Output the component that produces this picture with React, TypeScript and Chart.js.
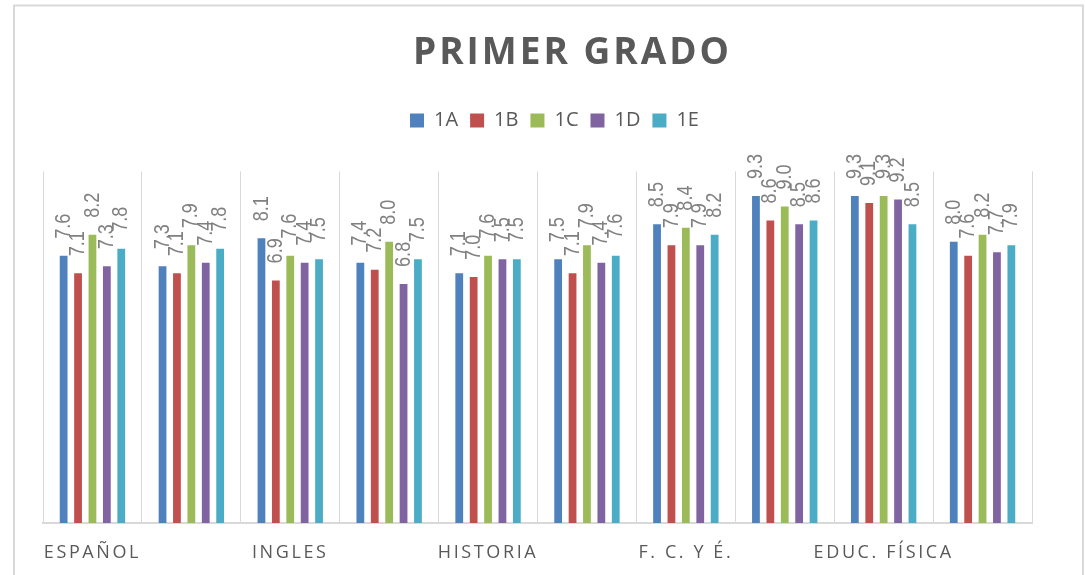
import React, { useEffect, useRef } from "react";
import { Chart, registerables } from "chart.js";

Chart.register(...registerables);

// Categories (only every other label is shown in the reference)
const categories = ["ESPAÑOL", "", "INGLES", "", "HISTORIA", "", "F. C. Y É.", "", "EDUC. FÍSICA", ""];

const seriesNames = ["1A", "1B", "1C", "1D", "1E"];
const values1A = [7.6, 7.3, 8.1, 7.4, 7.1, 7.5, 8.5, 9.3, 9.3, 8.0];
const values1B = [7.1, 7.1, 6.9, 7.2, 7.0, 7.1, 7.9, 8.6, 9.1, 7.6];
const values1C = [8.2, 7.9, 7.6, 8.0, 7.6, 7.9, 8.4, 9.0, 9.3, 8.2];
const values1D = [7.3, 7.4, 7.4, 6.8, 7.5, 7.4, 7.9, 8.5, 9.2, 7.7];
const values1E = [7.8, 7.8, 7.5, 7.5, 7.5, 7.6, 8.2, 8.6, 8.5, 7.9];
const seriesColors = ["#4f81bd", "#c0504d", "#9bbb59", "#8064a2", "#4bacc6"];

const titleText = "PRIMER GRADO";
const yMin = 0;
const yMax = 10;

const GRAY = "#d9d9d9";
const TEXT = "#595959";

const framePlugin = {
  id: "frame",
  beforeDraw(chart: any) {
    const ctx = chart.ctx;
    ctx.save();
    ctx.fillStyle = "#ffffff";
    ctx.fillRect(0, 0, chart.width, chart.height);
    ctx.strokeStyle = GRAY;
    ctx.lineWidth = 2;
    ctx.strokeRect(14, 5.5, 1069, chart.height + 10);
    ctx.restore();

    const title = chart.titleBlock;
    if (title && !title.__patched) {
      const orig = title.draw;
      title.draw = function (...a: any[]) {
        const c = this.ctx;
        c.save();
        c.letterSpacing = "3px";
        c.translate(35, 0);
        orig.apply(this, a);
        c.restore();
      };
      title.__patched = true;
    }
    const lg = chart.legend;
    if (lg && !lg.__patched) {
      const orig = lg.draw;
      lg.draw = function (...a: any[]) {
        const c = this.ctx;
        c.save();
        c.letterSpacing = "0px";
        c.translate(17, 0);
        orig.apply(this, a);
        c.restore();
      };
      lg.__patched = true;
    }
    const xs = chart.scales && chart.scales.x;
    if (xs && !xs.__patched) {
      const orig = xs.drawLabels;
      xs.drawLabels = function (...a: any[]) {
        const c = this.ctx;
        c.save();
        c.letterSpacing = "2.6px";
        orig.apply(this, a);
        c.restore();
      };
      xs.__patched = true;
    }
  },
};

const valueLabelPlugin = {
  id: "valueLabels",
  afterDatasetsDraw(chart: any) {
    const ctx = chart.ctx;
    ctx.save();
    ctx.letterSpacing = "0px";
    ctx.fillStyle = "#808080";
    ctx.font = '22px "Liberation Sans", Arial, sans-serif';
    ctx.textAlign = "left";
    ctx.textBaseline = "middle";
    chart.data.datasets.forEach((ds: any, di: number) => {
      const meta = chart.getDatasetMeta(di);
      meta.data.forEach((bar: any, i: number) => {
        const v = ds.data[i];
        ctx.save();
        ctx.translate(bar.x, bar.y - 17);
        ctx.rotate(-Math.PI / 2);
        ctx.scale(0.82, 1);
        ctx.fillText(Number(v).toFixed(1), 0, 0);
        ctx.restore();
      });
    });
    ctx.restore();
  },
};

export default function App() {
  const canvasRef = useRef<HTMLCanvasElement | null>(null);

  useEffect(() => {
    const canvas = canvasRef.current;
    if (!canvas) return;
    const allValues = [values1A, values1B, values1C, values1D, values1E];
    const chart = new Chart(canvas, {
      type: "bar",
      data: {
        labels: categories,
        datasets: seriesNames.map((name, i) => ({
          label: name,
          data: allValues[i],
          backgroundColor: seriesColors[i],
          borderWidth: 0,
          xAxisID: "x",
          yAxisID: "y",
          categoryPercentage: 0.728,
          barPercentage: 0.54,
        })),
      },
      options: {
        responsive: false,
        animation: false,
        devicePixelRatio: 1,
        layout: { padding: { left: 43, right: 53, top: 0, bottom: 0 } },
        plugins: {
          title: {
            display: true,
            text: titleText,
            color: TEXT,
            font: { family: "'Open Sans', sans-serif", size: 37, weight: "bold" },
            padding: { top: 31, bottom: 23 },
          },
          legend: {
            display: true,
            position: "top",
            labels: {
              color: TEXT,
              boxWidth: 14,
              boxHeight: 14,
              padding: 12,
              font: { family: "'Open Sans', sans-serif", size: 20 },
            },
          },
          tooltip: { enabled: false },
        },
        scales: {
          x: {
            type: "category",
            position: "bottom",
            grid: { display: true, color: GRAY, lineWidth: 1, drawTicks: false, offset: true },
            border: { display: true, color: GRAY, width: 2 },
            ticks: {
              autoSkip: false,
              maxRotation: 0,
              minRotation: 0,
              padding: 19,
              color: TEXT,
              font: { family: "'Open Sans', sans-serif", size: 18 },
            },
            afterFit: (s: any) => {
              s.height = 52;
            },
          },
          gap: {
            type: "category",
            position: "top",
            display: true,
            grid: { display: false },
            border: { display: false },
            ticks: { display: false },
            afterFit: (s: any) => {
              s.height = 31;
            },
          },
          y: {
            type: "linear",
            display: false,
            min: yMin,
            max: yMax,
          },
        },
      } as any,
      plugins: [framePlugin, valueLabelPlugin],
    });
    return () => chart.destroy();
  }, []);

  return (
    <div style={{ position: "absolute", left: 0, top: 0, width: 1085, height: 575 }}>
      <canvas ref={canvasRef} width={1085} height={575} />
    </div>
  );
}
